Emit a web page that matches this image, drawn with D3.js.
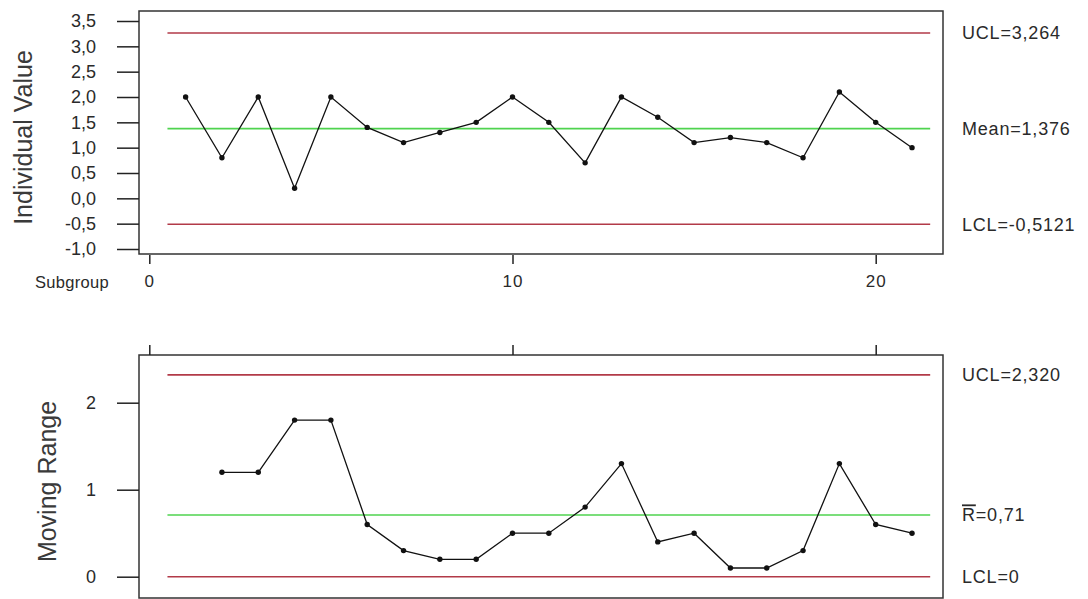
<!DOCTYPE html>
<html>
<head>
<meta charset="utf-8">
<script src="https://cdn.jsdelivr.net/npm/d3@7"></script>
<style>
  body { margin: 0; background: #fff; }
  svg { display: block; font-family: "Liberation Sans", Arial, sans-serif; }
  .tick text { fill: #2a2a2a; }
</style>
</head>
<body>
<div id="chart"></div>
<script>
// I-MR chart: individual values on top, moving ranges below
var subgroups = [1, 2, 3, 4, 5, 6, 7, 8, 9, 10, 11, 12, 13, 14, 15, 16, 17, 18, 19, 20, 21];
var individualValues = [2.0, 0.8, 2.0, 0.2, 2.0, 1.4, 1.1, 1.3, 1.5, 2.0, 1.5, 0.7, 2.0, 1.6, 1.1, 1.2, 1.1, 0.8, 2.1, 1.5, 1.0];
var movingRanges = [null, 1.2, 1.2, 1.8, 1.8, 0.6, 0.3, 0.2, 0.2, 0.5, 0.5, 0.8, 1.3, 0.4, 0.5, 0.1, 0.1, 0.3, 1.3, 0.6, 0.5];

var ivLimitValues = [3.264, 1.376, -0.5121];
var ivLimitLabels = ["UCL=3,264", "Mean=1,376", "LCL=-0,5121"];
var mrLimitValues = [2.320, 0.71, 0];
var mrLimitLabels = ["UCL=2,320", "R=0,71", "LCL=0"];

var ivTicks = [-1.0, -0.5, 0.0, 0.5, 1.0, 1.5, 2.0, 2.5, 3.0, 3.5];
var mrTicks = [0, 1, 2];
var subgroupTicks = [0, 10, 20];

var width = 1088, height = 599;
var frameLeft = 139, frameRight = 943;
var red = "#b23a48", green = "#4fd34f";

var locale = d3.formatLocale({ decimal: ",", thousands: ".", grouping: [3], currency: ["", ""], minus: "-" });
var fmt1 = locale.format(".1f");

var svg = d3.select("#chart")
    .append("svg")
    .attr("width", width)
    .attr("height", height);

// shared x scale (subgroup)
var x = d3.scaleLinear().domain([0, 20]).range([149.3, 875.7]);

function drawPanel(opts) {
  var y = d3.scaleLinear().domain(opts.yDomain).range(opts.yRange);
  var g = svg.append("g");

  // limit lines
  g.selectAll("line.limit")
    .data(opts.limits)
    .enter()
    .append("line")
    .attr("class", "limit")
    .attr("x1", x(0.5))
    .attr("x2", x(21.5))
    .attr("y1", function(d) { return y(d); })
    .attr("y2", function(d) { return y(d); })
    .attr("stroke", function(d, i) { return i === 1 ? green : red; })
    .attr("stroke-width", 1.6);

  // limit labels
  var labels = g.selectAll("text.limit")
    .data(opts.limits)
    .enter()
    .append("text")
    .attr("class", "limit")
    .attr("x", 962)
    .attr("y", function(d) { return y(d); })
    .attr("dy", "0.36em")
    .attr("font-size", 18)
    .attr("letter-spacing", 0.8)
    .attr("fill", "#2a2a2a");
  labels.each(function(d, i) {
    var t = d3.select(this);
    var label = opts.labels[i];
    if (opts.overlineFirst && i === 1) {
      t.append("tspan").style("text-decoration", "overline").text(label.charAt(0));
      t.append("tspan").text(label.slice(1));
    } else {
      t.text(label);
    }
  });

  // data line + points
  var pts = subgroups.map(function(s, i) { return { s: s, v: opts.values[i] }; })
    .filter(function(d) { return d.v != null; });

  var line = d3.line()
    .x(function(d) { return x(d.s); })
    .y(function(d) { return y(d.v); });

  g.append("path")
    .datum(pts)
    .attr("d", line)
    .attr("fill", "none")
    .attr("stroke", "#111")
    .attr("stroke-width", 1.3);

  g.selectAll("circle")
    .data(pts)
    .enter()
    .append("circle")
    .attr("cx", function(d) { return x(d.s); })
    .attr("cy", function(d) { return y(d.v); })
    .attr("r", 2.7)
    .attr("fill", "#111");

  // frame
  g.append("rect")
    .attr("x", frameLeft)
    .attr("y", opts.frameTop)
    .attr("width", frameRight - frameLeft)
    .attr("height", opts.frameBottom - opts.frameTop)
    .attr("fill", "none")
    .attr("stroke", "#333")
    .attr("stroke-width", 1.5);

  // y axis
  var yAxis = d3.axisLeft(y)
    .tickValues(opts.ticks)
    .tickSize(22)
    .tickPadding(21)
    .tickFormat(opts.tickFormat);

  g.append("g")
    .attr("class", "y axis")
    .attr("transform", "translate(" + frameLeft + ",0)")
    .call(yAxis)
    .call(function(a) {
      a.select(".domain").remove();
      a.selectAll(".tick line").attr("stroke", "#222").attr("stroke-width", 1.5);
      a.selectAll(".tick text").attr("font-size", 18).attr("font-family", "Liberation Sans, Arial, sans-serif");
    });

  // y title
  g.append("text")
    .attr("transform", "translate(" + opts.titleX + "," + ((opts.frameTop + opts.frameBottom) / 2 + 5) + ") rotate(-90)")
    .attr("text-anchor", "middle")
    .attr("font-size", 25)
    .attr("fill", "#3a3a3a")
    .text(opts.title);

  return g;
}

drawPanel({
  yDomain: [-1, 3.5], yRange: [249, 21],
  frameTop: 11, frameBottom: 254,
  limits: ivLimitValues, labels: ivLimitLabels,
  values: individualValues,
  ticks: ivTicks, tickFormat: fmt1,
  title: "Individual Value", titleX: 32
});

drawPanel({
  yDomain: [0, 2], yRange: [576.7, 402.7],
  frameTop: 355, frameBottom: 598,
  limits: mrLimitValues, labels: mrLimitLabels, overlineFirst: true,
  values: movingRanges,
  ticks: mrTicks, tickFormat: d3.format("d"),
  title: "Moving Range", titleX: 56
});

// subgroup axis under the top panel
var xAxis = d3.axisBottom(x)
  .tickValues(subgroupTicks)
  .tickSize(9)
  .tickPadding(11)
  .tickFormat(d3.format("d"));

svg.append("g")
  .attr("class", "x axis")
  .attr("transform", "translate(0,255)")
  .call(xAxis)
  .call(function(a) {
    a.select(".domain").remove();
    a.selectAll(".tick line").attr("stroke", "#222").attr("stroke-width", 1.5);
    a.selectAll(".tick text").attr("font-size", 17).attr("letter-spacing", 1).attr("font-family", "Liberation Sans, Arial, sans-serif");
  });

svg.append("text")
  .attr("x", 35)
  .attr("y", 288)
  .attr("font-size", 16.5)
  .attr("letter-spacing", 0.3)
  .attr("fill", "#2a2a2a")
  .text("Subgroup");

// tick marks above the bottom panel, no labels
var xAxisTop = d3.axisTop(x)
  .tickValues(subgroupTicks)
  .tickSize(10)
  .tickFormat("");

svg.append("g")
  .attr("transform", "translate(0,355)")
  .call(xAxisTop)
  .call(function(a) {
    a.select(".domain").remove();
    a.selectAll(".tick line").attr("stroke", "#222").attr("stroke-width", 1.5);
  });
</script>
</body>
</html>
